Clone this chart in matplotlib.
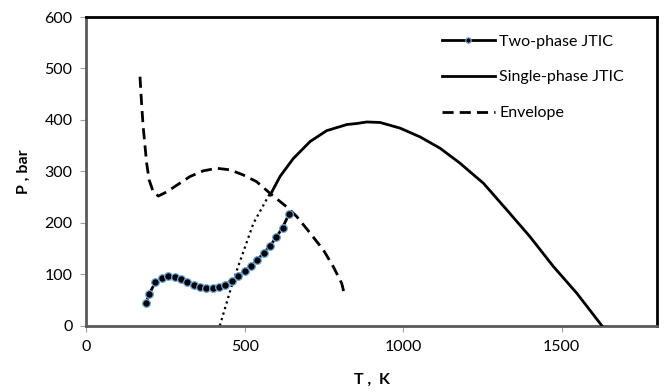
import matplotlib.pyplot as plt

plt.rcParams['font.family'] = ['Lato', 'DejaVu Sans']

# Two-phase JTIC (T in K, P in bar)
two_T = [188, 198, 217, 238, 258, 278, 298, 318, 338, 358, 378, 398,
         418, 438, 458, 479, 499, 519, 539, 559, 580, 599, 619, 639]
two_P = [43.5, 61.6, 84, 93, 96.6, 95, 91, 85.6, 79.7, 75.2, 72.6, 72.6,
         75.2, 79.7, 87.6, 96, 105.7, 116, 127.7, 141, 155.5, 171.8, 190.5, 216.5]

# Single-phase JTIC
single_T = [580, 611, 653, 706, 758, 822, 853, 885, 927, 990, 1053, 1116,
            1179, 1211, 1253, 1327, 1400, 1474, 1548, 1627]
single_P = [254, 290, 325, 358, 379, 391, 393, 396, 395, 384, 367, 345,
            316, 299, 277, 225, 173, 115, 63, 0]

# Phase envelope
env_T = [169, 174, 179, 185, 190, 198, 211, 227, 253, 285, 327, 369, 411,
         453, 495, 537, 580, 632, 664, 706, 748, 779, 806, 816]
env_P = [484, 432, 387, 348, 316, 283, 260, 252, 260, 273, 290, 301, 306,
         303, 293, 280, 257, 231, 212, 180, 147, 115, 82, 56]

# Dotted branch below the envelope crossing
dot_T = [421, 464, 527, 580]
dot_P = [0, 89, 199, 258]

fig = plt.figure(figsize=(6.65, 3.91), dpi=100)
ax = fig.add_axes([0.130, 0.167, 0.8575, 0.7895])

ax.plot(dot_T, dot_P, color='black', lw=1.6, linestyle=(0, (1, 1.6)))
ax.plot(env_T, env_P, color='black', lw=2, linestyle=(0, (4, 2.2)),
        label='Envelope', zorder=3)
ax.plot(single_T, single_P, color='black', lw=2, label='Single-phase JTIC', zorder=3)
ax.plot(two_T, two_P, color='black', lw=2, marker='o', markersize=5.5,
        markerfacecolor='black', markeredgecolor='#6fa8dc', markeredgewidth=0.9,
        label='Two-phase JTIC', zorder=4)

ax.set_xlim(0, 1800)
ax.set_ylim(0, 600)
ax.set_xticks([0, 500, 1000, 1500])
ax.set_yticks([0, 100, 200, 300, 400, 500, 600])
ax.tick_params(axis='both', direction='out', length=4, width=0.8,
               color='#a0a0a0', labelsize=11.5, pad=6)

for side in ['left', 'bottom']:
    ax.spines[side].set_color('#595959')
    ax.spines[side].set_linewidth(2)
for side in ['top', 'right']:
    ax.spines[side].set_color('black')
    ax.spines[side].set_linewidth(2)

ax.set_xlabel('T ,  K', fontsize=11.5, fontweight='bold', labelpad=14)
ax.set_ylabel('P , bar', fontsize=11.5, fontweight='bold', labelpad=10)

handles, labels = ax.get_legend_handles_labels()
order = [2, 1, 0]
ax.legend([handles[i] for i in order], [labels[i] for i in order],
          loc='upper right', frameon=False, fontsize=11.5, handlelength=3.3,
          handletextpad=0.3, labelspacing=1.35, markerscale=0.7,
          bbox_to_anchor=(0.968, 0.99))

fig.savefig('out.png', dpi=100)
